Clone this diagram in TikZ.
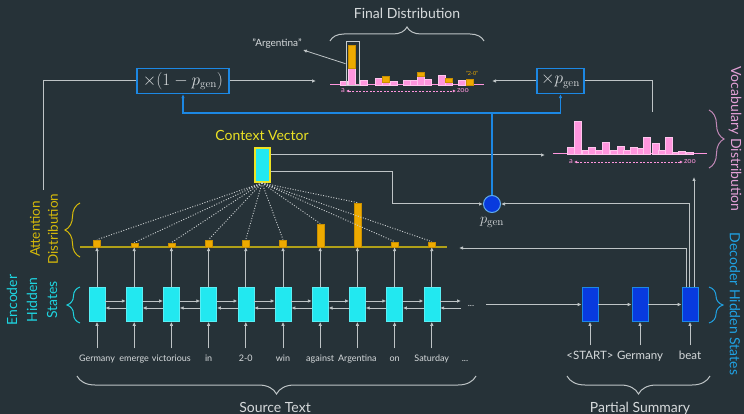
\documentclass[tikz,border=0pt]{standalone}
\usepackage[no-math]{fontspec}
\setmainfont{Lato}
\usetikzlibrary{positioning,arrows.meta,calc,decorations.pathreplacing}

\definecolor{bgcol}{RGB}{38,50,56}
\definecolor{linegray}{RGB}{190,196,198}
\definecolor{txtgray}{RGB}{214,218,220}
\definecolor{enccyan}{RGB}{34,232,240}
\definecolor{enclbl}{RGB}{30,212,224}
\definecolor{decblue}{RGB}{8,58,222}
\definecolor{boxblue}{RGB}{28,136,228}
\definecolor{ctxyellow}{RGB}{236,226,36}
\definecolor{attgold}{RGB}{214,186,10}
\definecolor{attline}{RGB}{176,160,24}
\definecolor{bargold}{RGB}{238,170,0}
\definecolor{vocpink}{RGB}{255,150,222}
\definecolor{voclbl}{RGB}{226,160,214}
\definecolor{declbl}{RGB}{32,162,228}

\begin{document}
\begin{tikzpicture}[x=1pt,y=-1pt,>={Latex[length=4pt,width=3.5pt]}]

\tikzstyle{gline}=[draw=linegray, line width=1pt]
\tikzstyle{arr}=[gline, ->]
\tikzstyle{bline}=[draw=boxblue, line width=1.2pt]
\tikzstyle{dotl}=[draw=linegray!85, line width=0.9pt, dash pattern=on 1pt off 1.6pt]
\tikzstyle{enc}=[rectangle, fill=enccyan, draw=enccyan!75!white, line width=0.6pt, minimum width=16pt, minimum height=34pt, inner sep=0pt]
\tikzstyle{dec}=[enc, fill=decblue, draw=boxblue]
\tikzstyle{word}=[text=txtgray, font=\fontsize{9}{10}\selectfont, text height=7pt, text depth=2pt, inner xsep=1pt, inner ysep=6pt]
\tikzstyle{dword}=[word, font=\fontsize{11.5}{13}\selectfont, text height=8.5pt, text depth=2.5pt, inner ysep=5pt]
\tikzstyle{bar}=[rectangle, anchor=south, fill=bargold, draw=bargold!85!black, line width=0.4pt, minimum width=7pt, inner sep=0pt]
\tikzstyle{mult}=[rectangle, draw=boxblue, line width=1.2pt, text=txtgray, minimum height=25pt, inner xsep=3pt, font=\fontsize{16}{18}\selectfont]
\tikzstyle{ttl}=[font=\fontsize{14}{20}\selectfont, align=center, inner sep=0pt, text=txtgray]
\tikzstyle{tiny}=[font=\fontsize{7.5}{8}\selectfont, text=vocpink, inner sep=1pt]
\tikzstyle{dasharr}=[draw=vocpink, line width=0.7pt, dash pattern=on 2pt off 1.5pt, {Latex[length=3pt,width=3pt]}-{Latex[length=3pt,width=3pt]}]
\tikzstyle{pinkbar}=[fill=vocpink, draw=vocpink!55!white, line width=0.4pt]
\tikzstyle{brc}=[decorate, line width=1pt]
\tikzstyle{blank}=[coordinate]

\fill[bgcol] (0,0) rectangle (744,414);
\useasboundingbox (0,0) rectangle (744,414);

% encoder
\foreach \w [count=\i from 0] in {Germany,emerge,victorious,in,2-0,win,against,Argentina,on,Saturday} {
    \node[enc] at (97+37.2*\i,304.5) (enc\i) {};
    \node[word] at (97+37.2*\i,359) (word\i) {\w};
    \draw[arr] (word\i) -- (enc\i);
}
\foreach \i in {0,...,8} {
\pgfmathtruncatemacro\next{\i+1}
\draw[arr] ($(enc\i.east)+(0,-3.5)$) -- ($(enc\next.west)+(0,-3.5)$);
\draw[arr] ($(enc\next.west)+(0,3.5)$) -- ($(enc\i.east)+(0,3.5)$);
}
\node[blank] at (461,304.5) (encR) {};
\draw[arr] ($(enc9.east)+(0,-3.5)$) -- ($(encR)+(0,-3.5)$);
\draw[arr] ($(encR)+(0,3.5)$) -- ($(enc9.east)+(0,3.5)$);
\node[word, anchor=base] at (471,306) (encdots) {...};
\node[word] at (465,359) (worddots) {...};

% attention
\node[blank] at (80,247) (attL) {};
\node[blank] at (447,247) (attR) {};
\draw[draw=attline, line width=1.2pt] (attL) -- (attR);
\foreach \h [count=\i from 0] in {7,4,4,7,7,7,23,44,5,5} {
    \node[bar, minimum height=\h] at (enc\i |- attL) (att\i) {};
    \draw[arr] (enc\i) -- (att\i);
}

% context vector
\node[rectangle, fill=enccyan, draw=ctxyellow, line width=2pt, minimum width=15pt, minimum height=34pt] at (262,165) (ctx) {};
\node[ttl, text=ctxyellow, anchor=base] at (262,141) (ctxlbl) {Context Vector};
\foreach \i in {0,...,9} {
    \draw[dotl] (ctx.south) -- (att\i.north);
}

% decoder
\foreach \w [count=\i from 0] in {<START>,Germany,beat} {
    \node[dec] at (590+50*\i,304.5) (dec\i) {};
    \node[dword] at (590+50*\i,356) (dword\i) {\w};
    \draw[arr] (dword\i) -- (dec\i);
}
\node[blank] at (486,304.5) (encout) {};
\draw[arr] (encout) -- (dec0);
\draw[arr] (dec0) -- (dec1);
\draw[arr] (dec1) -- (dec2);

% p_gen
\node[circle, fill=decblue, draw=boxblue!70!white, line width=1pt, minimum size=17pt, inner sep=0pt] at (492,204) (pgen) {};
\node[text=txtgray, font=\fontsize{15}{17}\selectfont, below=1pt of pgen] (pgenlbl) {$p_{\mathrm{gen}}$};

\node[blank] at (459,248) (attin) {};
\draw[arr] ($(dec2.north)+(-4,0)$) |- (attin);
\draw[arr] ($(dec2.north)+(-0.5,0)$) |- (pgen);
\node[blank] at (694,177) (vocbot) {};
\draw[arr] (dec2.north -| vocbot) -- (vocbot);

\node[blank] at (545,155) (vocin) {};
\draw[arr] (ctx.east |- vocin) -- (vocin);
\node[blank] at (392,172) (ctxbend) {};
\draw[arr] (ctx.east |- ctxbend) -- (ctxbend) |- (pgen);

% mixing
\node[mult, minimum width=92pt] at (183,81) (mult1) {$\times(1-p_{\mathrm{gen}})$};
\node[mult, minimum width=47pt] at (560.5,81) (mult2) {$\times p_{\mathrm{gen}}$};
\node[blank] at (492,113) (split) {};
\draw[bline] (pgen) -- (split);
\draw[bline,->] (split) -| (mult1);
\draw[bline,->] (split) -| (mult2);

\node[blank] at (43,190) (attsrc) {};
\draw[gline] (attsrc) |- (mult1);
\node[blank] at (316,81) (finL) {};
\draw[arr] (mult1) -- (finL);
\node[blank] at (492,81) (finR) {};
\draw[arr] (mult2) -- (finR);
\node[blank] at (652,112) (vocsrc) {};
\draw[gline] (mult2) -| (vocsrc);

% final distribution
\draw[draw=vocpink, line width=1pt] (330,85) -- (484,85);
\foreach \x/\p/\g in {340/4/0, 348/17/23, 360/5/0, 375/7/0, 382/3/6, 390/4/0, 403/5/0, 410/5/0,
    417/9/4, 424/6/0, 438/10/0, 445/3/4, 458/5/0, 466/0/6} {
    \filldraw[pinkbar] (\x,85) rectangle ++(7.5,-\p);
    \ifnum\g>0
    \filldraw[fill=bargold, draw=bargold!85!black, line width=0.4pt] (\x,85-\p) rectangle ++(7.5,-\g);
    \fi
}
\node[draw=linegray!85, line width=0.6pt, minimum width=13pt, minimum height=44pt, anchor=south west, inner sep=0pt] at (345.5,86) (argbox) {};
\node[text=txtgray, font=\fontsize{10}{12}\selectfont, inner sep=1pt] at (277,44) (arglbl) {"Argentina"};
\draw[draw=linegray, line width=0.8pt, ->] (argbox.west) -- (arglbl.south east);
\node[font=\fontsize{5.5}{6}\selectfont, text=bargold, inner sep=0pt] at (472,73) (twonil) {"2-0"};
\node[tiny] at (343,91) (fina) {a};
\node[tiny] at (463,91) (finz) {zoo};
\draw[dasharr] (fina) -- (finz);
\node[ttl, anchor=base] at (407,19) (finlbl) {Final Distribution};
\draw[brc, draw=linegray, decoration={brace, amplitude=14pt}] (330,41) -- (484,41);

% vocabulary distribution
\draw[draw=vocpink, line width=1pt] (553,154) -- (707,154);
\foreach \x/\p in {567/7, 574/33, 582/4, 588/7, 595/4, 602/12, 610/4, 617/8, 623/4,
    630/7, 637/6, 643/17, 652/11, 658/4, 665/17, 672/2, 678/3, 686/2} {
    \filldraw[pinkbar] (\x,154) rectangle ++(7,-\p);
}
\node[tiny] at (571,162) (voca) {a};
\node[tiny] at (690,162) (vocz) {zoo};
\draw[dasharr] (voca) -- (vocz);

% side labels
\node[ttl, text=voclbl, rotate=-90] at (735,139) (voclbl) {Vocabulary Distribution};
\draw[brc, draw=voclbl!85!black, decoration={brace, amplitude=15pt}] (709,110) -- (709,168);
\node[ttl, text=declbl, rotate=-90] at (735,304) (declbl) {Decoder Hidden States};
\draw[brc, draw=declbl, decoration={brace, amplitude=14pt}] (709,287) -- (709,323);
\node[ttl, text=enclbl, rotate=90] at (32,300) (enclbl) {Encoder\\Hidden\\States};
\draw[brc, draw=enclbl, decoration={brace, amplitude=13pt}] (80,323) -- (80,287);
\node[ttl, text=attgold, rotate=90, font=\fontsize{13.5}{18}\selectfont] at (44,229) (attlbl) {Attention\\Distribution};
\draw[brc, draw=attgold, decoration={brace, amplitude=15pt}] (80,257) -- (80,203);

% bottom
\draw[brc, draw=linegray, decoration={brace, amplitude=18pt}] (476,376) -- (77,376);
\node[ttl, anchor=base] at (275,412) (srclbl) {Source Text};
\draw[brc, draw=linegray, decoration={brace, amplitude=18pt}] (710,376) -- (567,376);
\node[ttl, anchor=base] at (640,412) (sumlbl) {Partial Summary};

\end{tikzpicture}
\end{document}
